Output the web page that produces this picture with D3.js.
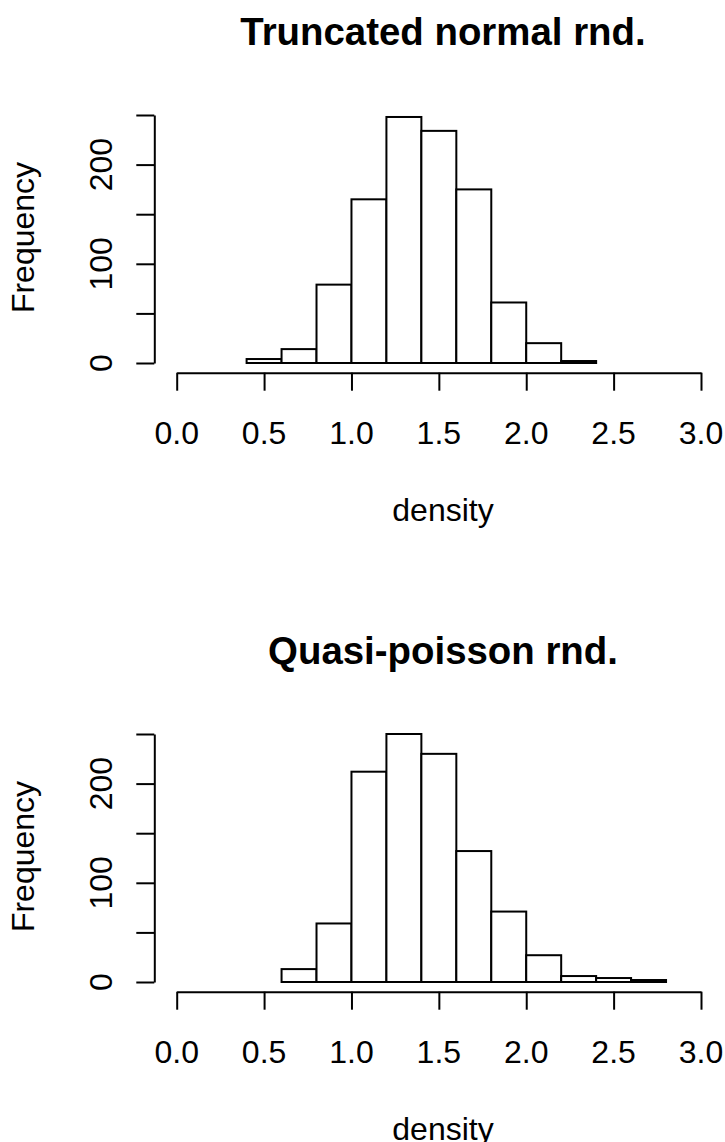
<!DOCTYPE html>
<html>
<head>
<meta charset="utf-8">
<script src="https://cdn.jsdelivr.net/npm/d3@7"></script>
<style>
  body { margin: 0; background: #fff; }
  svg { display: block; font-family: "Liberation Sans", Arial, sans-serif; }
</style>
</head>
<body>
<svg width="725" height="1142"></svg>
<script>
// histogram data
var titles = ["Truncated normal rnd.", "Quasi-poisson rnd."];
var breaksTop = [0.4, 0.6, 0.8, 1.0, 1.2, 1.4, 1.6, 1.8, 2.0, 2.2, 2.4];
var countsTop = [4, 14, 79, 165, 248, 234, 175, 61, 20, 2];
var breaksBottom = [0.6, 0.8, 1.0, 1.2, 1.4, 1.6, 1.8, 2.0, 2.2, 2.4, 2.6, 2.8];
var countsBottom = [13, 59, 212, 250, 230, 132, 71, 27, 6, 4, 2];
var xTicks = [0, 0.5, 1, 1.5, 2, 2.5, 3];
var yTicks = [0, 50, 100, 150, 200, 250];
var yLabels = [0, 100, 200];
var xLabel = "density", yLabel = "Frequency";

var svg = d3.select("svg");

var x = d3.scaleLinear().domain([0, 3]).range([176.7, 701]);

function panel(offset, title, breaks, counts) {
  var g = svg.append("g").attr("transform", "translate(0," + offset + ")");
  var y = d3.scaleLinear().domain([0, 250]).range([363, 115]);

  var bins = counts.map(function(c, i) { return {x0: breaks[i], x1: breaks[i + 1], n: c}; });

  g.selectAll("rect.bar")
    .data(bins)
    .enter().append("rect")
      .attr("class", "bar")
      .attr("x", function(d) { return x(d.x0); })
      .attr("width", function(d) { return x(d.x1) - x(d.x0); })
      .attr("y", function(d) { return y(d.n); })
      .attr("height", function(d) { return y(0) - y(d.n); })
      .attr("fill", "white")
      .attr("stroke", "black")
      .attr("stroke-width", 2);

  // x axis
  var ax = g.append("g")
      .attr("transform", "translate(0,372.7)")
      .call(d3.axisBottom(x).tickValues(xTicks).tickSize(18).tickSizeOuter(0).tickFormat(""));
  ax.selectAll("path, line").attr("stroke-width", 2);

  g.selectAll("text.xl")
    .data(xTicks)
    .enter().append("text")
      .attr("class", "xl")
      .attr("x", function(d) { return x(d); })
      .attr("y", 443.5)
      .attr("text-anchor", "middle")
      .attr("font-size", 32)
      .text(d3.format(".1f"));

  // y axis
  var ay = g.append("g")
      .attr("transform", "translate(154.3,0)")
      .call(d3.axisLeft(y).tickValues(yTicks).tickSize(18).tickSizeOuter(0).tickFormat(""));
  ay.selectAll("path, line").attr("stroke-width", 2);

  g.selectAll("text.yl")
    .data(yLabels)
    .enter().append("text")
      .attr("class", "yl")
      .attr("transform", function(d) { return "translate(111.5," + y(d) + ") rotate(-90)"; })
      .attr("text-anchor", "middle")
      .attr("font-size", 32)
      .text(function(d) { return d; });

  g.append("text")
    .attr("transform", "translate(33.5,237.5) rotate(-90)")
    .attr("text-anchor", "middle")
    .attr("font-size", 32)
    .text(yLabel);

  g.append("text")
    .attr("x", 443)
    .attr("y", 520.7)
    .attr("text-anchor", "middle")
    .attr("font-size", 32)
    .text(xLabel);

  g.append("text")
    .attr("x", 443)
    .attr("y", 45)
    .attr("text-anchor", "middle")
    .attr("font-size", 38.4)
    .attr("font-weight", "bold")
    .text(title);
}

panel(0, titles[0], breaksTop, countsTop);
panel(619, titles[1], breaksBottom, countsBottom);
</script>
</body>
</html>
